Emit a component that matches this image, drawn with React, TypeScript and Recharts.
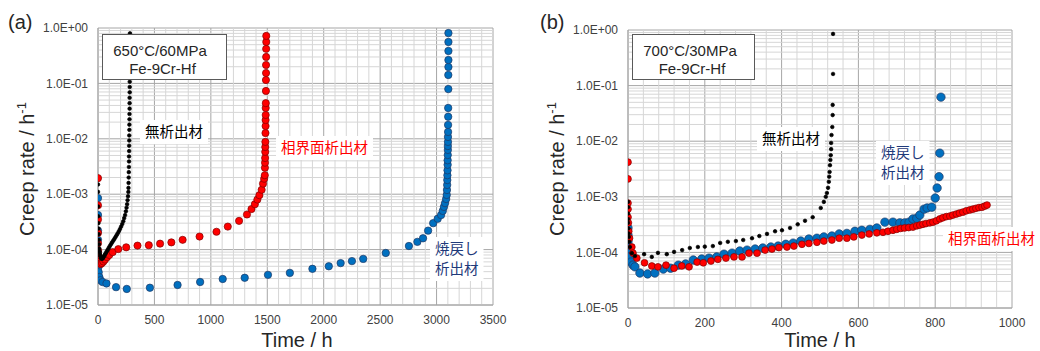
import { ScatterChart, Scatter, XAxis, YAxis, CartesianGrid, ReferenceLine } from "recharts";

type Pt = [number, number];

// (a) 650°C / 60MPa  -- [time h, creep rate 1/h]
const aNoPrecip: Pt[] = [
  [0, 1.5e-3], [0, 1.1e-3], [1, 6e-4], [2, 4e-4], [3, 3e-4], [4, 2.4e-4], [5, 1.9e-4], [7, 1.5e-4],
  [9, 1.25e-4], [11, 1.05e-4], [14, 9.2e-5], [17, 8.3e-5], [21, 7.6e-5], [25, 7.1e-5], [30, 6.9e-5],
  [36, 6.8e-5], [42, 7e-5], [48, 7.3e-5], [55, 7.7e-5], [62, 8.2e-5], [70, 8.7e-5], [78, 9.3e-5],
  [87, 1e-4], [96, 1.08e-4], [105, 1.16e-4], [115, 1.25e-4], [125, 1.35e-4], [135, 1.45e-4],
  [145, 1.56e-4], [155, 1.68e-4], [165, 1.82e-4], [175, 1.97e-4], [185, 2.15e-4], [195, 2.35e-4],
  [205, 2.6e-4], [215, 2.9e-4], [224, 3.25e-4], [232, 3.7e-4], [240, 4.2e-4], [247, 4.9e-4],
  [253, 5.7e-4], [258, 6.6e-4], [262, 7.8e-4], [266, 9.2e-4], [269, 1.1e-3], [270, 1.3e-3],
  [271, 1.6e-3], [272, 2e-3], [273, 2.5e-3], [274, 3.1e-3], [275, 3.9e-3], [275, 4.8e-3],
  [276, 6e-3], [276, 7.5e-3], [277, 9.3e-3], [277, 1.15e-2], [278, 1.45e-2], [278, 1.8e-2],
  [279, 2.25e-2], [279, 2.8e-2], [280, 3.5e-2], [280, 4.4e-2], [280, 5.5e-2], [281, 6.9e-2],
  [281, 8.6e-2], [281, 0.107], [282, 0.134], [282, 0.17], [282, 0.22], [283, 0.3], [283, 0.42],
  [283, 0.6], [283, 0.8],
];

const aInterphase: Pt[] = [
  [0, 1.95e-3], [0, 6.3e-4], [0, 3.5e-4], [0, 2e-4], [0, 1.3e-4], [1, 9.5e-5], [3, 7.8e-5],
  [6, 6.6e-5], [10, 6e-5], [16, 5.6e-5], [24, 5.5e-5], [35, 5.7e-5], [48, 6.1e-5], [62, 6.6e-5],
  [80, 7.3e-5], [100, 8e-5], [130, 9e-5], [180, 1.02e-4], [250, 1.1e-4], [350, 1.18e-4],
  [450, 1.2e-4], [550, 1.28e-4], [650, 1.35e-4], [750, 1.5e-4], [900, 1.72e-4], [1050, 2.1e-4],
  [1150, 2.6e-4], [1250, 3.3e-4], [1320, 4.3e-4], [1360, 5.4e-4], [1390, 6.6e-4], [1412, 8e-4],
  [1430, 9.6e-4], [1450, 1.2e-3], [1462, 1.55e-3], [1472, 1.9e-3], [1478, 2.2e-3], [1479, 3e-3],
  [1480, 3.7e-3], [1481, 4.5e-3], [1482, 5.8e-3], [1482, 7.1e-3], [1483, 8.8e-3], [1484, 1.27e-2],
  [1485, 1.7e-2], [1485, 2.18e-2], [1486, 2.69e-2], [1486, 3.6e-2], [1487, 4.4e-2], [1488, 7.3e-2],
  [1488, 0.115], [1489, 0.154], [1489, 0.215], [1490, 0.3], [1490, 0.42], [1491, 0.56], [1491, 0.72],
];

const aTempered: Pt[] = [
  [0, 8.5e-4], [0, 4.2e-4], [0, 2.2e-4], [0, 1.5e-4], [0, 9e-5], [1, 6.2e-5], [3, 4.8e-5],
  [6, 3.9e-5], [12, 3.2e-5], [22, 2.8e-5], [40, 2.6e-5], [75, 2.45e-5], [160, 2.1e-5],
  [255, 1.95e-5], [460, 2.05e-5], [705, 2.3e-5], [905, 2.6e-5], [1105, 2.95e-5], [1300, 3.1e-5],
  [1506, 3.5e-5], [1700, 3.8e-5], [1900, 4.5e-5], [2045, 5e-5], [2150, 5.7e-5], [2250, 6.2e-5],
  [2350, 6.8e-5], [2550, 8.7e-5], [2755, 1.16e-4], [2830, 1.38e-4], [2880, 1.6e-4], [2925, 2.2e-4],
  [2970, 3e-4], [3010, 3.6e-4], [3040, 4.2e-4], [3055, 5e-4], [3065, 5.9e-4], [3075, 6.9e-4],
  [3085, 8.2e-4], [3090, 9.7e-4], [3092, 1.19e-3], [3094, 1.47e-3], [3095, 1.8e-3], [3096, 2.2e-3],
  [3097, 2.7e-3], [3098, 3.4e-3], [3098, 4.1e-3], [3099, 5.1e-3], [3100, 6.3e-3], [3100, 7.4e-3],
  [3101, 8.8e-3], [3101, 1.08e-2], [3102, 1.33e-2], [3102, 1.78e-2], [3103, 2.5e-2], [3103, 3.6e-2],
  [3104, 7.9e-2], [3104, 0.142], [3105, 0.198], [3105, 0.264], [3105, 0.385], [3105, 0.56],
  [3105, 0.81],
];

// (b) 700°C / 30MPa
const bNoPrecip: Pt[] = [
  [0, 8.1e-4], [0, 6.5e-4], [0, 5e-4], [0, 4e-4], [0, 3.4e-4], [1, 2.7e-4], [1, 2.2e-4], [2, 1.9e-4],
  [3, 1.55e-4], [5, 1.25e-4], [10, 9.7e-5], [18, 8.6e-5], [42, 9.3e-5], [62, 8.3e-5], [78, 9.8e-5],
  [101, 9.3e-5], [120, 1.02e-4], [141, 1.1e-4], [161, 1.2e-4], [182, 1.25e-4], [200, 1.27e-4],
  [221, 1.3e-4], [240, 1.48e-4], [260, 1.55e-4], [281, 1.6e-4], [300, 1.67e-4], [323, 1.8e-4],
  [342, 1.97e-4], [362, 2.15e-4], [383, 2.4e-4], [401, 2.5e-4], [422, 2.75e-4], [442, 3.2e-4],
  [461, 3.7e-4], [481, 4.3e-4], [502, 6.3e-4], [510, 8.1e-4], [515, 1e-3], [518, 1.17e-3],
  [521, 1.45e-3], [523, 1.86e-3], [524, 2.3e-3], [525, 2.8e-3], [526, 3.7e-3], [527, 4.6e-3],
  [528, 5.6e-3], [529, 7.2e-3], [529, 9.3e-3], [530, 1.29e-2], [532, 1.8e-2], [533, 2.95e-2],
  [533, 4.5e-2], [534, 0.162], [534, 0.85],
];

const bInterphase: Pt[] = [
  [0, 4.2e-3], [0, 2.1e-3], [0, 7.7e-4], [0, 6e-4], [0, 4.3e-4], [1, 3.4e-4], [2, 2.4e-4],
  [4, 1.8e-4], [10, 1.25e-4], [13, 9.7e-5], [23, 7.9e-5], [43, 6.5e-5], [62, 5.7e-5], [78, 5.5e-5],
  [99, 5.9e-5], [120, 5.2e-5], [140, 5.7e-5], [159, 5.5e-5], [180, 6.7e-5], [196, 6.5e-5],
  [216, 7e-5], [234, 7.5e-5], [255, 7.9e-5], [276, 8.3e-5], [297, 8.3e-5], [315, 9.7e-5],
  [336, 9.7e-5], [357, 1.1e-4], [375, 1.15e-4], [393, 1.22e-4], [414, 1.25e-4], [432, 1.3e-4],
  [453, 1.4e-4], [471, 1.45e-4], [492, 1.52e-4], [510, 1.6e-4], [531, 1.67e-4], [550, 1.8e-4],
  [570, 1.8e-4], [588, 1.9e-4], [609, 2.05e-4], [628, 2.15e-4], [648, 2.25e-4], [664, 2.3e-4],
  [677, 2.4e-4], [690, 2.5e-4], [700, 2.6e-4], [710, 2.7e-4], [720, 2.75e-4], [731, 2.8e-4],
  [742, 2.85e-4], [752, 3e-4], [760, 3.1e-4], [768, 3.2e-4], [776, 3.3e-4], [786, 3.4e-4],
  [794, 3.5e-4], [803, 3.7e-4], [812, 4e-4], [820, 4.2e-4], [829, 4.4e-4], [838, 4.5e-4],
  [846, 4.7e-4], [855, 4.9e-4], [863, 5.1e-4], [872, 5.3e-4], [881, 5.6e-4], [890, 5.8e-4],
  [898, 6e-4], [906, 6.2e-4], [914, 6.4e-4], [922, 6.5e-4], [929, 6.8e-4], [935, 7.1e-4],
];

const bTempered: Pt[] = [
  [0, 2.75e-4], [0, 2.05e-4], [0, 1.55e-4], [1, 1.2e-4], [1, 9.7e-5], [3, 8.3e-5], [8, 6.7e-5],
  [13, 5.9e-5], [18, 5.5e-5], [31, 4.25e-5], [51, 4.1e-5], [70, 4.25e-5], [92, 5e-5], [111, 5.2e-5],
  [131, 5.9e-5], [150, 6.2e-5], [170, 7.3e-5], [192, 7.6e-5], [211, 7.9e-5], [231, 8.3e-5],
  [250, 9.3e-5], [271, 9.7e-5], [291, 1.06e-4], [310, 1.1e-4], [331, 1.15e-4], [351, 1.2e-4],
  [372, 1.25e-4], [391, 1.3e-4], [411, 1.4e-4], [430, 1.47e-4], [450, 1.6e-4], [471, 1.74e-4],
  [492, 1.8e-4], [510, 1.9e-4], [531, 1.97e-4], [550, 2.15e-4], [570, 2.2e-4], [591, 2.4e-4],
  [609, 2.5e-4], [630, 2.6e-4], [648, 2.75e-4], [669, 3.5e-4], [690, 3.5e-4], [708, 3.4e-4],
  [721, 3.4e-4], [732, 3.5e-4], [742, 4e-4], [752, 4.1e-4], [760, 4.7e-4], [771, 6e-4],
  [779, 6.3e-4], [791, 6.5e-4], [800, 9.5e-4], [805, 1.44e-3], [810, 2.3e-3], [812, 6.1e-3],
  [815, 6.2e-2],
];

const yTicks = [1e-5, 1e-4, 1e-3, 1e-2, 1e-1, 1];
const aTimeTicks = [0, 500, 1000, 1500, 2000, 2500, 3000, 3500];
const bTimeTicks = [0, 200, 400, 600, 800, 1000];

const yMinor: number[] = [];
for (let e = -5; e < 0; e++) for (let k = 2; k <= 9; k++) yMinor.push(k * Math.pow(10, e));
const aMinorX: number[] = [];
for (let t = 100; t < 3500; t += 100) if (t % 500) aMinorX.push(t);
const bMinorX: number[] = [];
for (let t = 40; t < 1000; t += 40) if (t % 200) bMinorX.push(t);

const FONT = '"Liberation Sans", Arial, sans-serif';
const JP = '"Noto Sans CJK JP", sans-serif';
const NAVY = "#1F3A7A";
const MINOR = "#d6d6d6";
const MAJOR = "#a6a6a6";

const toRows = (pts: Pt[]) => pts.map(([t, r]) => ({ t, r }));

const fmtExp = (v: number) => {
  const e = Math.round(Math.log10(v));
  return `1.0E${e < 0 ? "-" : "+"}${String(Math.abs(e)).padStart(2, "0")}`;
};

const dot = (r: number, fill: string, stroke: string) => (p: any) =>
  <circle cx={p.cx} cy={p.cy} r={r} fill={fill} stroke={stroke} strokeWidth={0.7} />;

interface PanelProps {
  margin: { top: number; right: number; bottom: number; left: number };
  xMax: number;
  xTicks: number[];
  xMinor: number[];
  black: Pt[];
  red: Pt[];
  blue: Pt[];
  rBig: number;
  rRed: number;
}

const Panel = ({ margin, xMax, xTicks, xMinor, black, red, blue, rBig, rRed }: PanelProps) => (
  <ScatterChart width={520} height={351} margin={margin}>
    {yMinor.map((v) => <ReferenceLine key={"y" + v} y={v} stroke={MINOR} strokeWidth={1} />)}
    {xMinor.map((v) => <ReferenceLine key={"x" + v} x={v} stroke={MINOR} strokeWidth={1} />)}
    <CartesianGrid stroke={MAJOR} horizontalValues={yTicks} verticalValues={xTicks} />
    <XAxis
      type="number" dataKey="t" domain={[0, xMax]} ticks={xTicks} allowDataOverflow
      height={30} tickLine={false} tickSize={8} tickMargin={2} axisLine={{ stroke: MAJOR }}
      tick={{ fontSize: 12, fill: "#404040", fontFamily: FONT }}
    />
    <YAxis
      type="number" dataKey="r" scale="log" domain={[1e-5, 1]} ticks={yTicks} allowDataOverflow
      width={60} tickLine={false} tickSize={8} tickMargin={2} axisLine={{ stroke: MAJOR }}
      tickFormatter={fmtExp} tick={{ fontSize: 12, fill: "#404040", fontFamily: FONT }}
    />
    <Scatter data={toRows(blue)} shape={dot(rBig, "#0070C0", "#1F3864")} isAnimationActive={false} />
    <Scatter data={toRows(red)} shape={dot(rRed, "#FF0000", "#7F0000")} isAnimationActive={false} />
    <Scatter data={toRows(black)} shape={dot(1.8, "#000000", "#000000")} isAnimationActive={false} />
  </ScatterChart>
);

const Note = ({ x, y, lines, color, gap = 20 }: { x: number; y: number; lines: string[]; color: string; gap?: number }) => {
  const fs = 14.5;
  const w = Math.max(...lines.map((l) => l.length)) * fs;
  return (
    <g>
      <rect x={x - 5} y={y - 12} width={w + 10} height={gap * (lines.length - 1) + 24} fill="#fff" />
      {lines.map((l, i) => (
        <text key={i} x={x} y={y + i * gap + 5} fontSize={fs} fill={color} fontFamily={JP}>{l}</text>
      ))}
    </g>
  );
};

const CondBox = ({ x, y, w, h, l1, l2, c1, c2 }: { x: number; y: number; w: number; h: number; l1: string; l2: string; c1: number; c2: number }) => (
  <g fontFamily={FONT} fontSize={15} fill="#262626" textAnchor="middle">
    <rect x={x} y={y} width={w} height={h} fill="#fff" stroke="#595959" strokeWidth={1} />
    <text x={c1} y={y + 21}>{l1}</text>
    <text x={c2} y={y + 39}>{l2}</text>
  </g>
);

const YTitle = ({ x, y }: { x: number; y: number }) => (
  <text transform={`translate(${x},${y}) rotate(-90)`} textAnchor="middle" fontSize={20} fill="#262626" fontFamily={FONT}>
    Creep rate / h<tspan fontSize={13} dy={-8}>-1</tspan>
  </text>
);

export default function App() {
  return (
    <div style={{ position: "absolute", left: 0, top: 0, width: 1040, height: 351, background: "#fff" }}>
      <div style={{ position: "absolute", left: 0, top: 0 }}>
        <Panel
          margin={{ top: 28, right: 27, bottom: 16, left: 38 }} xMax={3500} xTicks={aTimeTicks} xMinor={aMinorX}
          black={aNoPrecip} red={aInterphase} blue={aTempered} rBig={3.7} rRed={3.6}
        />
      </div>
      <div style={{ position: "absolute", left: 520, top: 0 }}>
        <Panel
          margin={{ top: 30, right: 28, bottom: 13, left: 48 }} xMax={1000} xTicks={bTimeTicks} xMinor={bMinorX}
          black={bNoPrecip} red={bInterphase} blue={bTempered} rBig={4.2} rRed={3.4}
        />
      </div>
      <svg width={1040} height={351} style={{ position: "absolute", left: 0, top: 0, pointerEvents: "none" }}>
        <text x={8} y={29} fontSize={20} fontFamily={FONT} fill="#262626">(a)</text>
        <text x={540} y={29} fontSize={20} fontFamily={FONT} fill="#262626">(b)</text>
        <YTitle x={34} y={169} />
        <YTitle x={564} y={169} />
        <text x={297} y={347} textAnchor="middle" fontSize={20} fontFamily={FONT} fill="#262626">Time / h</text>
        <text x={820} y={347} textAnchor="middle" fontSize={20} fontFamily={FONT} fill="#262626">Time / h</text>
        <CondBox x={102.5} y={34.5} w={124} h={45} l1="650°C/60MPa" l2="Fe-9Cr-Hf" c1={160} c2={162.5} />
        <CondBox x={632.5} y={34.5} w={122} h={45} l1="700°C/30MPa" l2="Fe-9Cr-Hf" c1={690} c2={692} />
        <Note x={145} y={132} lines={["無析出材"]} color="#000000" />
        <Note x={281} y={148} lines={["相界面析出材"]} color="#FF0000" />
        <Note x={435} y={249} lines={["焼戻し", "析出材"]} color={NAVY} />
        <Note x={762} y={139} lines={["無析出材"]} color="#000000" />
        <Note x={881} y={153} lines={["焼戻し", "析出材"]} color={NAVY} />
        <Note x={948} y={239} lines={["相界面析出材"]} color="#FF0000" />
      </svg>
    </div>
  );
}
